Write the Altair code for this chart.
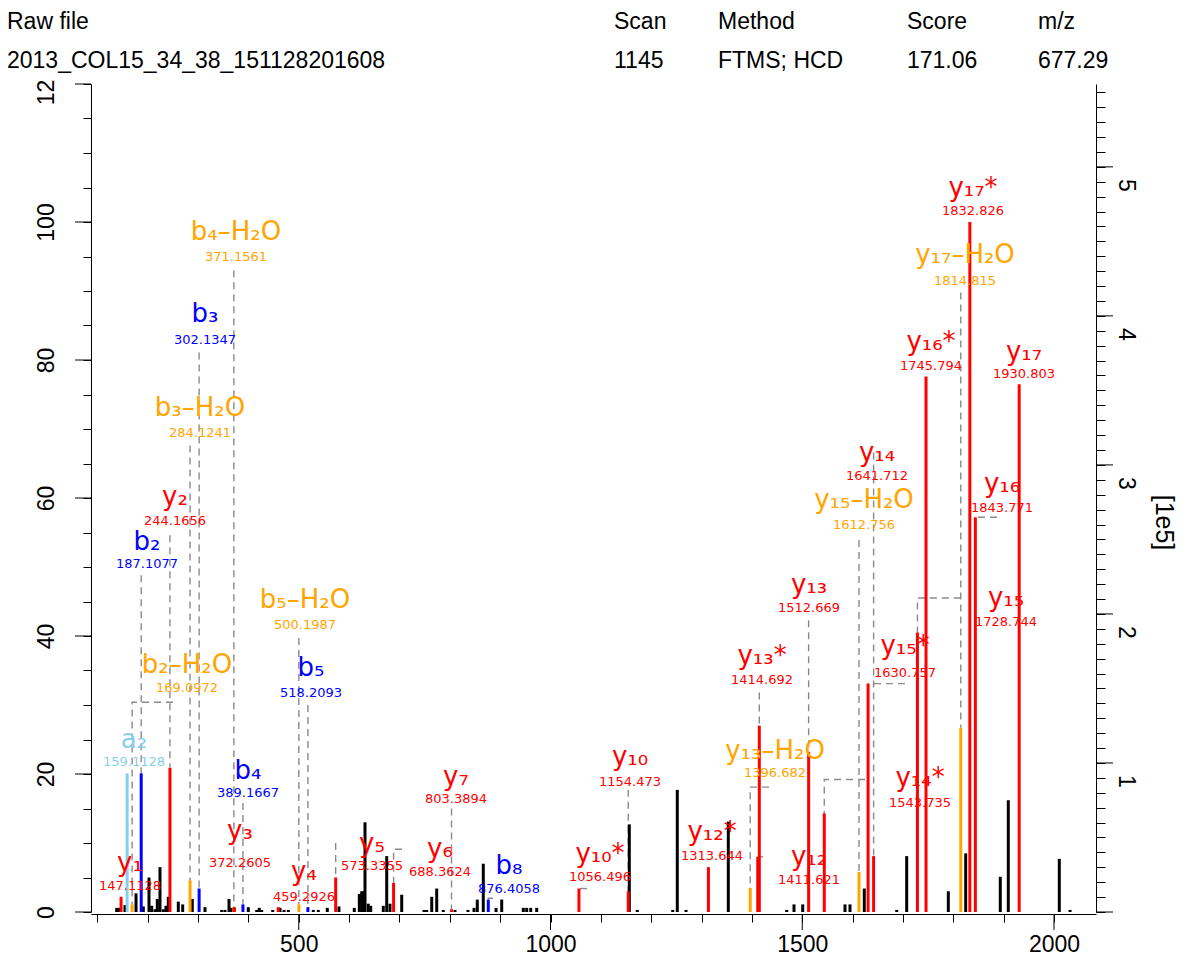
import altair as alt
import pandas as pd

# ---------------- data ----------------
# un-annotated peaks: m/z and relative intensity (%)
black_mz = [138.4, 143.0, 154.9, 176.8, 191.3, 202.6, 207.9, 214.5, 219.1, 224.4, 231.0, 236.3, 240.9,
            260.8, 269.5, 288.6, 313.8, 347.0, 353.5, 361.5, 366.8, 399.8, 416.5, 421.6, 426.4, 448.3,
            462.8, 470.7, 479.2, 528.9, 538.8, 556.7, 579.9, 610.3, 620.3, 625.0, 628.2, 631.6, 638.1,
            642.9, 667.9, 674.7, 681.2, 704.5, 748.8, 754.1, 764.1, 774.0, 787.1, 810.3, 836.1, 848.1,
            854.6, 866.5, 891.8, 903.1, 946.0, 952.7, 960.7, 972.6, 1156.5, 1172.4, 1242.7, 1251.8,
            1269.1, 1353.1, 1469.1, 1483.6, 1500.9, 1584.9, 1594.8, 1623.2, 1687.6, 1707.4, 1790.1,
            1824.6, 1893.3, 1909.2, 2010.5, 2031.8]
black_int = [0.6, 0.6, 1.0, 2.7, 0.8, 5.0, 0.9, 0.4, 1.9, 6.5, 0.4, 0.9, 2.2,
             1.5, 1.1, 1.9, 0.7, 0.3, 0.3, 1.9, 0.6, 0.7, 0.3, 0.6, 0.3, 0.3,
             0.6, 0.3, 0.3, 0.3, 0.3, 0.6, 0.8, 0.6, 2.6, 3.0, 3.0, 13.0, 1.2,
             0.9, 0.9, 8.1, 1.2, 2.5, 0.3, 0.3, 2.2, 3.4, 0.3, 0.3, 0.3, 0.6,
             1.8, 7.0, 0.6, 1.8, 0.6, 0.6, 0.6, 0.6, 12.7, 0.3, 0.3, 17.7,
             0.3, 13.1, 0.3, 1.1, 1.1, 1.1, 1.1, 3.4, 0.3, 8.1, 3.0,
             8.5, 5.1, 16.2, 7.7, 0.3]

# annotated fragment ions
ion_label = ["y₁", "a₂", "b₂–H₂O", "b₂", "y₂", "b₃–H₂O", "b₃", "b₄–H₂O", "y₃", "b₄",
             "y₄", "b₅–H₂O", "b₅", "y₅", "y₆", "y₇", "b₈", "y₁₀*", "y₁₀", "y₁₂*",
             "y₁₃–H₂O", "y₁₂", "y₁₃*", "y₁₃", "y₁₄*", "y₁₅–H₂O", "y₁₅*", "y₁₄", "y₁₅", "y₁₆*",
             "y₁₇–H₂O", "y₁₇*", "y₁₆", "y₁₇"]
ion_series = ["y", "a", "b-H2O", "b", "y", "b-H2O", "b", "b-H2O", "y", "b",
              "y", "b-H2O", "b", "y", "y", "y", "b", "y", "y", "y",
              "y-H2O", "y", "y", "y", "y", "y-H2O", "y", "y", "y", "y",
              "y-H2O", "y", "y", "y"]
ion_mz_text = ["147.1128", "159.1128", "169.0972", "187.1077", "244.1656", "284.1241", "302.1347",
               "371.1561", "372.2605", "389.1667", "459.2926", "500.1987", "518.2093", "573.3355",
               "688.3624", "803.3894", "876.4058", "1056.496", "1154.473", "1313.644", "1396.682",
               "1411.621", "1414.692", "1512.669", "1543.735", "1612.756", "1630.757", "1641.712",
               "1728.744", "1745.794", "1814.815", "1832.826", "1843.771", "1930.803"]
ion_int = [2.2, 20.1, 1.1, 20.1, 20.9, 4.6, 3.4, 0.7, 0.7, 1.1,
           0.7, 1.1, 0.7, 5.0, 4.2, 0.4, 1.8, 3.4, 3.0, 6.5,
           3.5, 8.0, 27.0, 23.2, 14.3, 5.8, 33.1, 8.1, 40.5, 77.6,
           26.7, 100.0, 57.2, 76.5]
# label anchors (m/z, %) : ion name line and m/z line
label_mz = [164.8, 172.8, 278.1, 198.6, 254.2, 303.9, 313.8, 375.4, 383.3, 399.2,
            510.4, 512.4, 524.3, 645.5, 780.5, 812.3, 917.6, 1098.3, 1157.9, 1320.8,
            1445.9, 1513.4, 1420.1, 1513.4, 1733.9, 1622.6, 1704.1, 1648.5, 1904.7, 1755.7,
            1823.2, 1839.1, 1896.7, 1940.4]
label_ion_y = [7.06, 25.0, 35.75, 53.6, 60.1, 73.1, 86.6, 98.5, 11.8, 20.5,
               5.75, 45.2, 35.3, 9.81, 9.09, 19.5, 6.6, 8.36, 22.4, 11.6,
               23.4, 7.93, 37.1, 47.4, 19.4, 59.7, 38.5, 66.5, 45.5, 82.6,
               95.2, 105.0, 62.1, 81.2]
label_num_y = [3.72, 21.7, 32.4, 50.4, 56.6, 69.4, 82.9, 94.9, 7.06, 17.2,
               2.13, 41.6, 31.7, 6.62, 5.75, 16.4, 3.4, 5.03, 18.9, 8.07,
               20.1, 4.59, 33.6, 44.0, 15.8, 56.1, 34.7, 63.2, 42.0, 79.1,
               91.4, 101.6, 58.6, 78.0]

# dashed leader lines (m/z, %) per ion
connectors = {
    "b₂–H₂O": [(250.2, 30.4), (169.0972, 30.4), (169.0972, 1.1)],
    "b₂": [(187.1077, 48.8), (187.1077, 20.1)],
    "y₂": [(244.1656, 54.6), (244.1656, 20.9)],
    "b₃–H₂O": [(284.1241, 67.6), (284.1241, 4.6)],
    "b₃": [(302.1347, 81.1), (302.1347, 3.4)],
    "b₄–H₂O": [(371.1561, 93.0), (371.1561, 0.7)],
    "b₄": [(389.1667, 15.8), (389.1667, 1.1)],
    "b₅–H₂O": [(500.1987, 39.7), (500.1987, 1.1)],
    "b₅": [(518.2093, 30.0), (518.2093, 0.7)],
    "y₅": [(573.3355, 10.0), (573.3355, 5.0)],
    "y₆": [(705.0, 9.1), (688.3624, 9.1), (688.3624, 4.2)],
    "y₇": [(803.3894, 15.0), (803.3894, 0.4)],
    "b₈": [(885.8, 2.0), (876.4058, 2.0), (876.4058, 1.8)],
    "y₁₀*": [(1072.5, 3.4), (1056.496, 3.4)],
    "y₁₀": [(1154.473, 17.7), (1154.473, 3.0)],
    "y₁₃–H₂O": [(1433.9, 18.1), (1396.682, 18.1), (1396.682, 3.5)],
    "y₁₂": [(1422.0, 8.0), (1411.621, 8.0)],
    "y₁₃*": [(1414.692, 31.8), (1414.692, 27.0)],
    "y₁₃": [(1512.669, 42.3), (1512.669, 23.2)],
    "y₁₄*": [(1624.6, 19.2), (1543.735, 19.2), (1543.735, 14.3)],
    "y₁₅–H₂O": [(1612.756, 53.9), (1612.756, 5.8)],
    "y₁₅*": [(1704.1, 33.1), (1630.757, 33.1)],
    "y₁₄": [(1641.712, 66.6), (1641.712, 8.1)],
    "y₁₅": [(1815.0, 45.5), (1728.744, 45.5), (1728.744, 40.5)],
    "y₁₆": [(1886.8, 57.2), (1843.771, 57.2)],
    "y₁₇–H₂O": [(1814.815, 89.8), (1814.815, 26.7)],
}

# intensity of the 100 % peak (right axis in units of 1e5)
base_peak_intensity = 4.63e5

header_keys = ["Raw file", "Scan", "Method", "Score", "m/z"]
header_vals = ["2013_COL15_34_38_151128201608", "1145", "FTMS; HCD", "171.06", "677.29"]

left_major = [0, 20, 40, 60, 80, 100, 120]
left_minor = list(range(0, 121, 5))
x_major = [500, 1000, 1500, 2000]
x_minor = list(range(100, 2001, 100))
right_major = [0, 1, 2, 3, 4, 5]
right_minor = [round(i * 0.1, 1) for i in range(56)]

# ---------------- layout / style ----------------
W, H = 1005, 828
AXF = "Liberation Sans, Arial, sans-serif"
LBLF = "DejaVu Sans, Verdana, sans-serif"
series_domain = ["y", "b", "a", "b-H2O", "y-H2O"]
series_range = ["#ff0000", "#0000ff", "#87ceeb", "#ffa500", "#ffa500"]

x_scale = alt.Scale(domain=[87.4, 2083.4], nice=False, zero=False)
y_scale = alt.Scale(domain=[0, 120], nice=False, zero=False)
r_max = 120 * base_peak_intensity / 100 / 1e5
r_scale = alt.Scale(domain=[0, r_max], nice=False, zero=False)

x_axis = alt.Axis(values=x_minor, format="d", tickSize=8, offset=2,
                  labelExpr="datum.value % 500 === 0 ? datum.label : ''",
                  labelFont=AXF, labelFontSize=23, labelColor="black", labelPadding=11,
                  labelFlush=False, labelOverlap=False, labelBaseline="top",
                  tickColor="black", domainColor="black", grid=False, title=None)
y_axis = alt.Axis(values=left_minor, tickSize=8,
                  labelExpr="datum.value % 20 === 0 ? (datum.value === 120 ? '12' : datum.label) : ''",
                  labelAngle=270, labelAlign="center", labelBaseline="alphabetic",
                  labelOffset={"condition": {"test": "datum.value === 120", "value": 8}, "value": 0},
                  labelFont=AXF, labelFontSize=23, labelColor="black", labelPadding=30,
                  labelFlush=False, labelOverlap=False,
                  tickColor="black", domainColor="black", grid=False, title=None)
r_axis = alt.Axis(orient="right", values=right_minor, tickSize=9,
                  labelExpr="datum.value > 0.5 && abs(datum.value - round(datum.value)) < 0.01 ? '' + round(datum.value) : ''",
                  labelAngle=90, labelAlign="center", labelBaseline="alphabetic", labelOffset=18,
                  labelFont=AXF, labelFontSize=23, labelColor="black", labelPadding=13,
                  labelFlush=False, labelOverlap=False,
                  tickColor="black", domainColor="black", grid=False,
                  title="[1e5]", titleAngle=90, titleFont=AXF, titleFontSize=25,
                  titleFontWeight="normal", titleColor="black", titleX=67, titleY=438,
                  titleAlign="center", titleBaseline="middle")


def X(field):
    return alt.X(field, type="quantitative", scale=x_scale, axis=x_axis, title=None)


def Y(field):
    return alt.Y(field, type="quantitative", scale=y_scale, axis=y_axis, title=None)


color_enc = alt.Color("series:N", scale=alt.Scale(domain=series_domain, range=series_range), legend=None)

df_black = pd.DataFrame({"mz": black_mz, "int": black_int})
df_ions = pd.DataFrame({
    "label": ion_label, "series": ion_series, "mztext": ion_mz_text,
    "mz": [float(s) for s in ion_mz_text], "int": ion_int,
    "lx": label_mz, "ly": label_ion_y, "ny": label_num_y,
})
rows = []
for name, pts in connectors.items():
    for k, (m, v) in enumerate(pts):
        rows.append({"ion": name, "k": k, "mz": m, "int": v})
df_conn = pd.DataFrame(rows)

conn_layer = alt.Chart(df_conn).mark_line(
    color="#8a8a8a", strokeWidth=1.4, strokeDash=[7, 5], strokeCap="butt"
).encode(x=X("mz"), y=Y("int"), detail="ion:N", order="k:Q")

black_layer = alt.Chart(df_black).mark_rule(color="black", strokeWidth=3, strokeCap="butt").encode(
    x=X("mz"), y=Y("int"), y2=alt.datum(0))

ion_layer = alt.Chart(df_ions).mark_rule(strokeWidth=3, strokeCap="butt").encode(
    x=X("mz"), y=Y("int"), y2=alt.datum(0), color=color_enc)

name_layer = alt.Chart(df_ions).mark_text(font=LBLF, fontSize=26, align="center", baseline="middle").encode(
    x=X("lx"), y=Y("ly"), text="label:N", color=color_enc)

num_layer = alt.Chart(df_ions).mark_text(font=LBLF, fontSize=13, align="center", baseline="middle").encode(
    x=X("lx"), y=Y("ny"), text="mztext:N", color=color_enc)

left_tick_layer = alt.Chart(pd.DataFrame({"v": left_major})).mark_rule(color="black", strokeWidth=1).encode(
    y=Y("v"), x=alt.value(-16), x2=alt.value(0))

bottom_tick_layer = alt.Chart(pd.DataFrame({"m": x_major})).mark_rule(color="black", strokeWidth=1).encode(
    x=X("m"), y=alt.value(H + 2), y2=alt.value(H + 18))

header_x = [-84, 523, 627, 816, 947]
header_layers = []
for i, (k, v) in enumerate(zip(header_keys, header_vals)):
    for txt, yy in ((k, -62), (v, -23)):
        header_layers.append(
            alt.Chart(pd.DataFrame({"t": [txt]})).mark_text(
                font=AXF, fontSize=23, align="left", baseline="middle", color="black"
            ).encode(x=alt.value(header_x[i]), y=alt.value(yy), text="t:N")
        )

left_group = alt.layer(conn_layer, black_layer, ion_layer, name_layer, num_layer,
                       left_tick_layer, bottom_tick_layer, *header_layers)

right_group = alt.Chart(pd.DataFrame({"r": right_major})).mark_rule(color="black", strokeWidth=1).encode(
    y=alt.Y("r:Q", scale=r_scale, axis=r_axis), x=alt.value(W), x2=alt.value(W + 17))

chart = alt.layer(left_group, right_group).resolve_scale(y="independent").properties(
    width=W, height=H,
    padding={"left": 83, "top": 76, "right": 82, "bottom": 46},
    autosize=alt.AutoSizeParams(type="none"),
).configure_view(stroke="transparent")

chart.save("out.html", embed_options={"renderer": "svg", "actions": False})
